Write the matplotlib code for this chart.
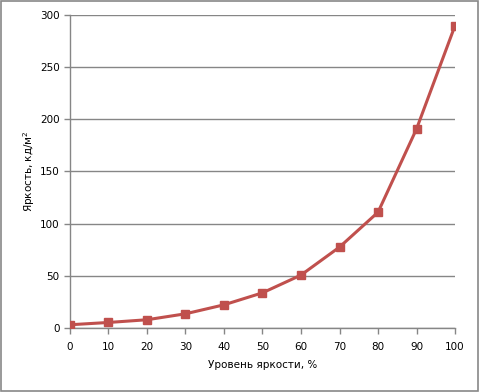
import matplotlib
matplotlib.use("Agg")
import matplotlib.pyplot as plt
from matplotlib.patches import Rectangle

# ── Data ─────────────────────────────────────────────────────────────────────
levels = [0, 10, 20, 30, 40, 50, 60, 70, 80, 90, 100]
brightness = [3.2, 5.4, 8, 13.7, 22.3, 33.8, 50.8, 77.6, 111, 190.8, 289.8]
x_ticks = [0, 10, 20, 30, 40, 50, 60, 70, 80, 90, 100]
y_ticks = [0, 50, 100, 150, 200, 250, 300]

RED = "#C0504D"
GRID = "#868686"

fig = plt.figure(figsize=(4.79, 3.92), dpi=100)
fig.patches.append(Rectangle((0.002, 0.002), 0.995, 0.995, transform=fig.transFigure,
                             fill=False, edgecolor="#888888", linewidth=1.2))

ax = fig.add_axes([0.146, 0.163, 0.804, 0.799])
ax.set_xlim(0, 100)
ax.set_ylim(0, 300)

ax.plot(levels, brightness, color=RED, linewidth=2.2, solid_joinstyle="round",
        marker="s", markersize=6, zorder=3)

ax.set_xticks(x_ticks)
ax.set_yticks(y_ticks)
ax.tick_params(axis="both", colors=GRID, labelcolor="black", labelsize=7.5,
               direction="out", length=4, width=1)
ax.tick_params(axis="x", pad=6)
ax.yaxis.grid(True, color=GRID, linewidth=1)
ax.set_axisbelow(True)
for side in ("top", "right"):
    ax.spines[side].set_visible(False)
for side in ("left", "bottom"):
    ax.spines[side].set_color(GRID)
    ax.spines[side].set_linewidth(1)

ax.set_xlabel("Уровень яркости, %", fontsize=7.5, labelpad=6)
ax.set_ylabel("Яркость, кд/м$^2$", fontsize=7.5, labelpad=2)

fig.savefig("out.png", dpi=100)
